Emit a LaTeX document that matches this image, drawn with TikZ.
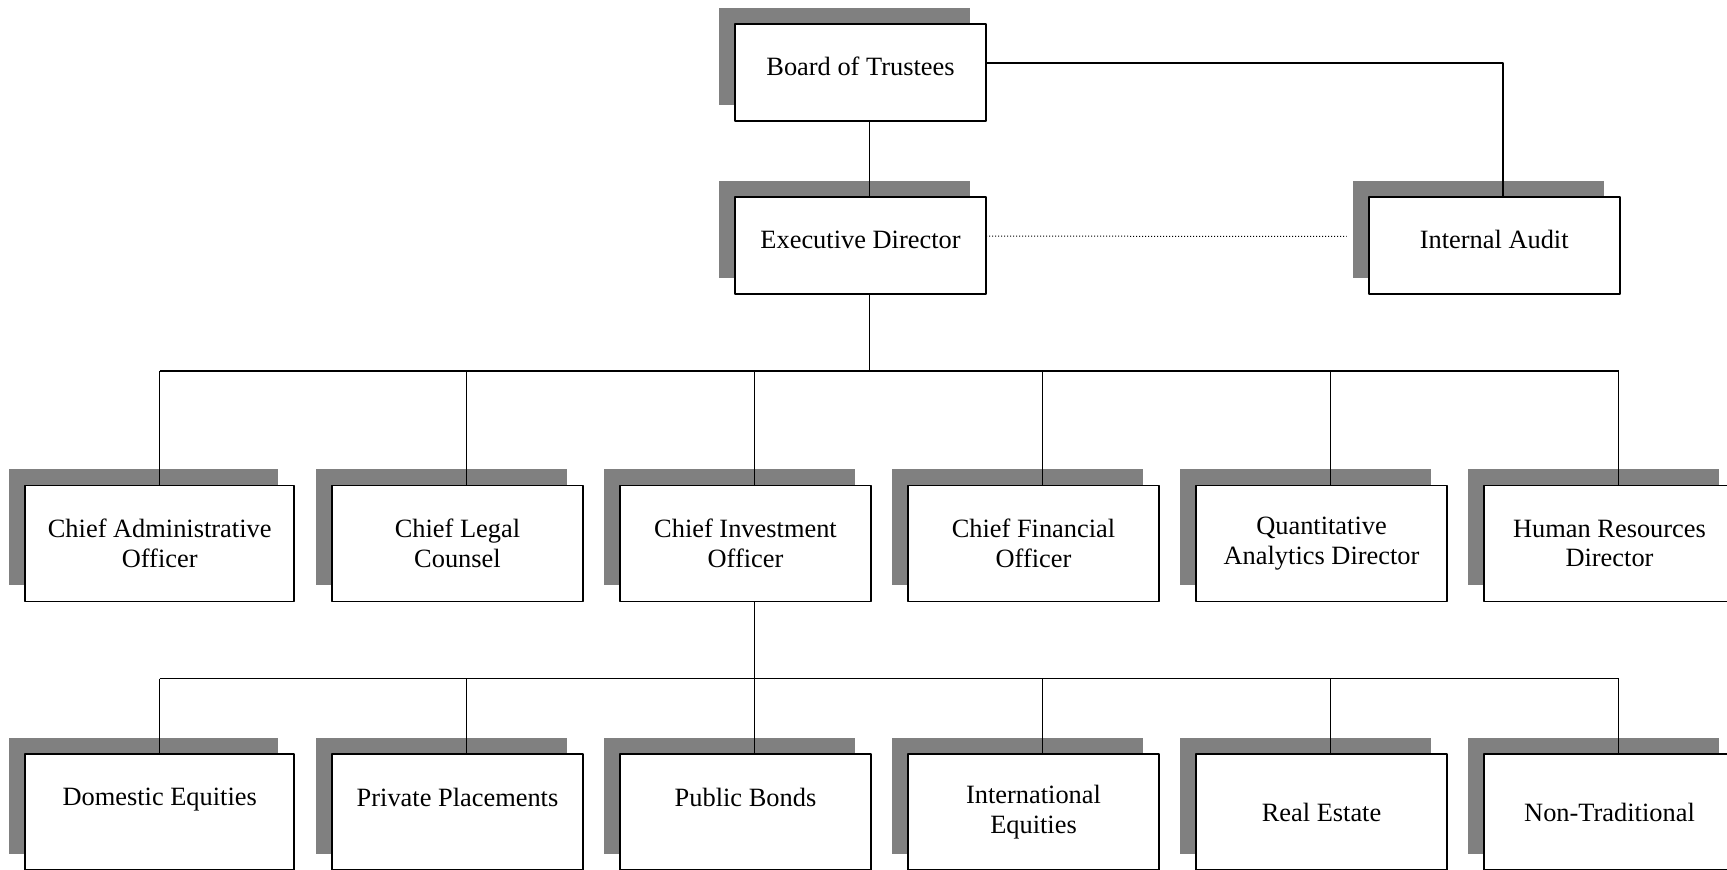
\documentclass[tikz,border=0pt]{standalone}
\usepackage{fontspec}
\setmainfont{Liberation Serif}
\usetikzlibrary{shadows}

\tikzset{
  post/.style={draw, line width=0.9pt, fill=white, align=center,
    minimum width=125.5pt, inner sep=2pt, outer sep=0pt,
    font=\fontsize{13.2}{14.8}\selectfont,
    drop shadow={shadow xshift=-8pt, shadow yshift=8pt, fill=gray, opacity=1}},
  toppost/.style={post, minimum height=48.5pt, text height=9pt, text depth=6pt},
  rowpost/.style={post, minimum height=58pt},
  widepost/.style={minimum width=134.65pt},
  link/.style={line width=0.9pt},
  dotlink/.style={line width=0.5pt, dash pattern=on 0.5pt off 1pt}
}

\begin{document}
\begin{tikzpicture}[x=0.5pt, y=-0.5pt, line join=round]
\useasboundingbox (0,0) rectangle (1727,869);
% board, director, audit
\node[toppost] (brd) at (860.5,72.5) {Board of Trustees};
\node[toppost] (ed) at (860.5,245.7) {Executive Director};
\node[toppost] (ia) at (1494.2,245.8) {Internal Audit};
% officers
\node[rowpost, widepost] (cao) at (159.7,543.4) {Chief Administrative\\Officer};
\node[rowpost] (cl) at (457.5,543.4) {Chief Legal\\Counsel};
\node[rowpost] (cio) at (745.5,543.4) {Chief Investment\\Officer};
\node[rowpost] (cfo) at (1033.5,543.4) {Chief Financial\\Officer};
\node[rowpost] (qad) at (1321.5,543.4) {Quantitative\\Analytics Director};
\node[rowpost] (hrd) at (1609.5,543.4) {Human Resources\\Director};
% asset classes
\node[rowpost, widepost] (dom) at (159.7,812) {Domestic Equities\\~};
\node[rowpost] (pp) at (457.5,812) {Private Placements\\~};
\node[rowpost] (pb) at (745.5,812) {Public Bonds\\~};
\node[rowpost] (intl) at (1033.5,812) {International\\Equities};
\node[rowpost] (re) at (1321.5,812) {Real Estate};
\node[rowpost] (nt) at (1609.5,812) {Non-Traditional};

\foreach \n in {brd,ed,ia,cao,cl,cio,cfo,qad,hrd,dom,pp,pb,intl,re,nt}
  \coordinate (\n-in) at ([xshift=67.25pt]\n.north west);
\foreach \n in {brd,ed,cio}
  \coordinate (\n-out) at ([xshift=67.25pt]\n.south west);
\coordinate (bus1) at (0,371);
\coordinate (bus2) at (0,678.5);

\draw[link] (brd-out) -- (ed-in);
\draw[link] ([yshift=-19.5pt]brd.north east) -| (ia-in);
\draw[dotlink] ([yshift=-19.5pt]ed.north east) -- ([xshift=-11pt,yshift=-19.5pt]ia.north west);

\draw[link] (ed-out) -- (ed-out |- bus1);
\draw[link] (cao-in |- bus1) -- (hrd-in |- bus1);
\foreach \n in {cao,cl,cio,cfo,qad,hrd}
  \draw[link] (\n-in |- bus1) -- (\n-in);

\draw[link] (cio-out) -- (cio-out |- bus2);
\draw[link] (dom-in |- bus2) -- (nt-in |- bus2);
\foreach \n in {dom,pp,pb,intl,re,nt}
  \draw[link] (\n-in |- bus2) -- (\n-in);
\end{tikzpicture}
\end{document}
